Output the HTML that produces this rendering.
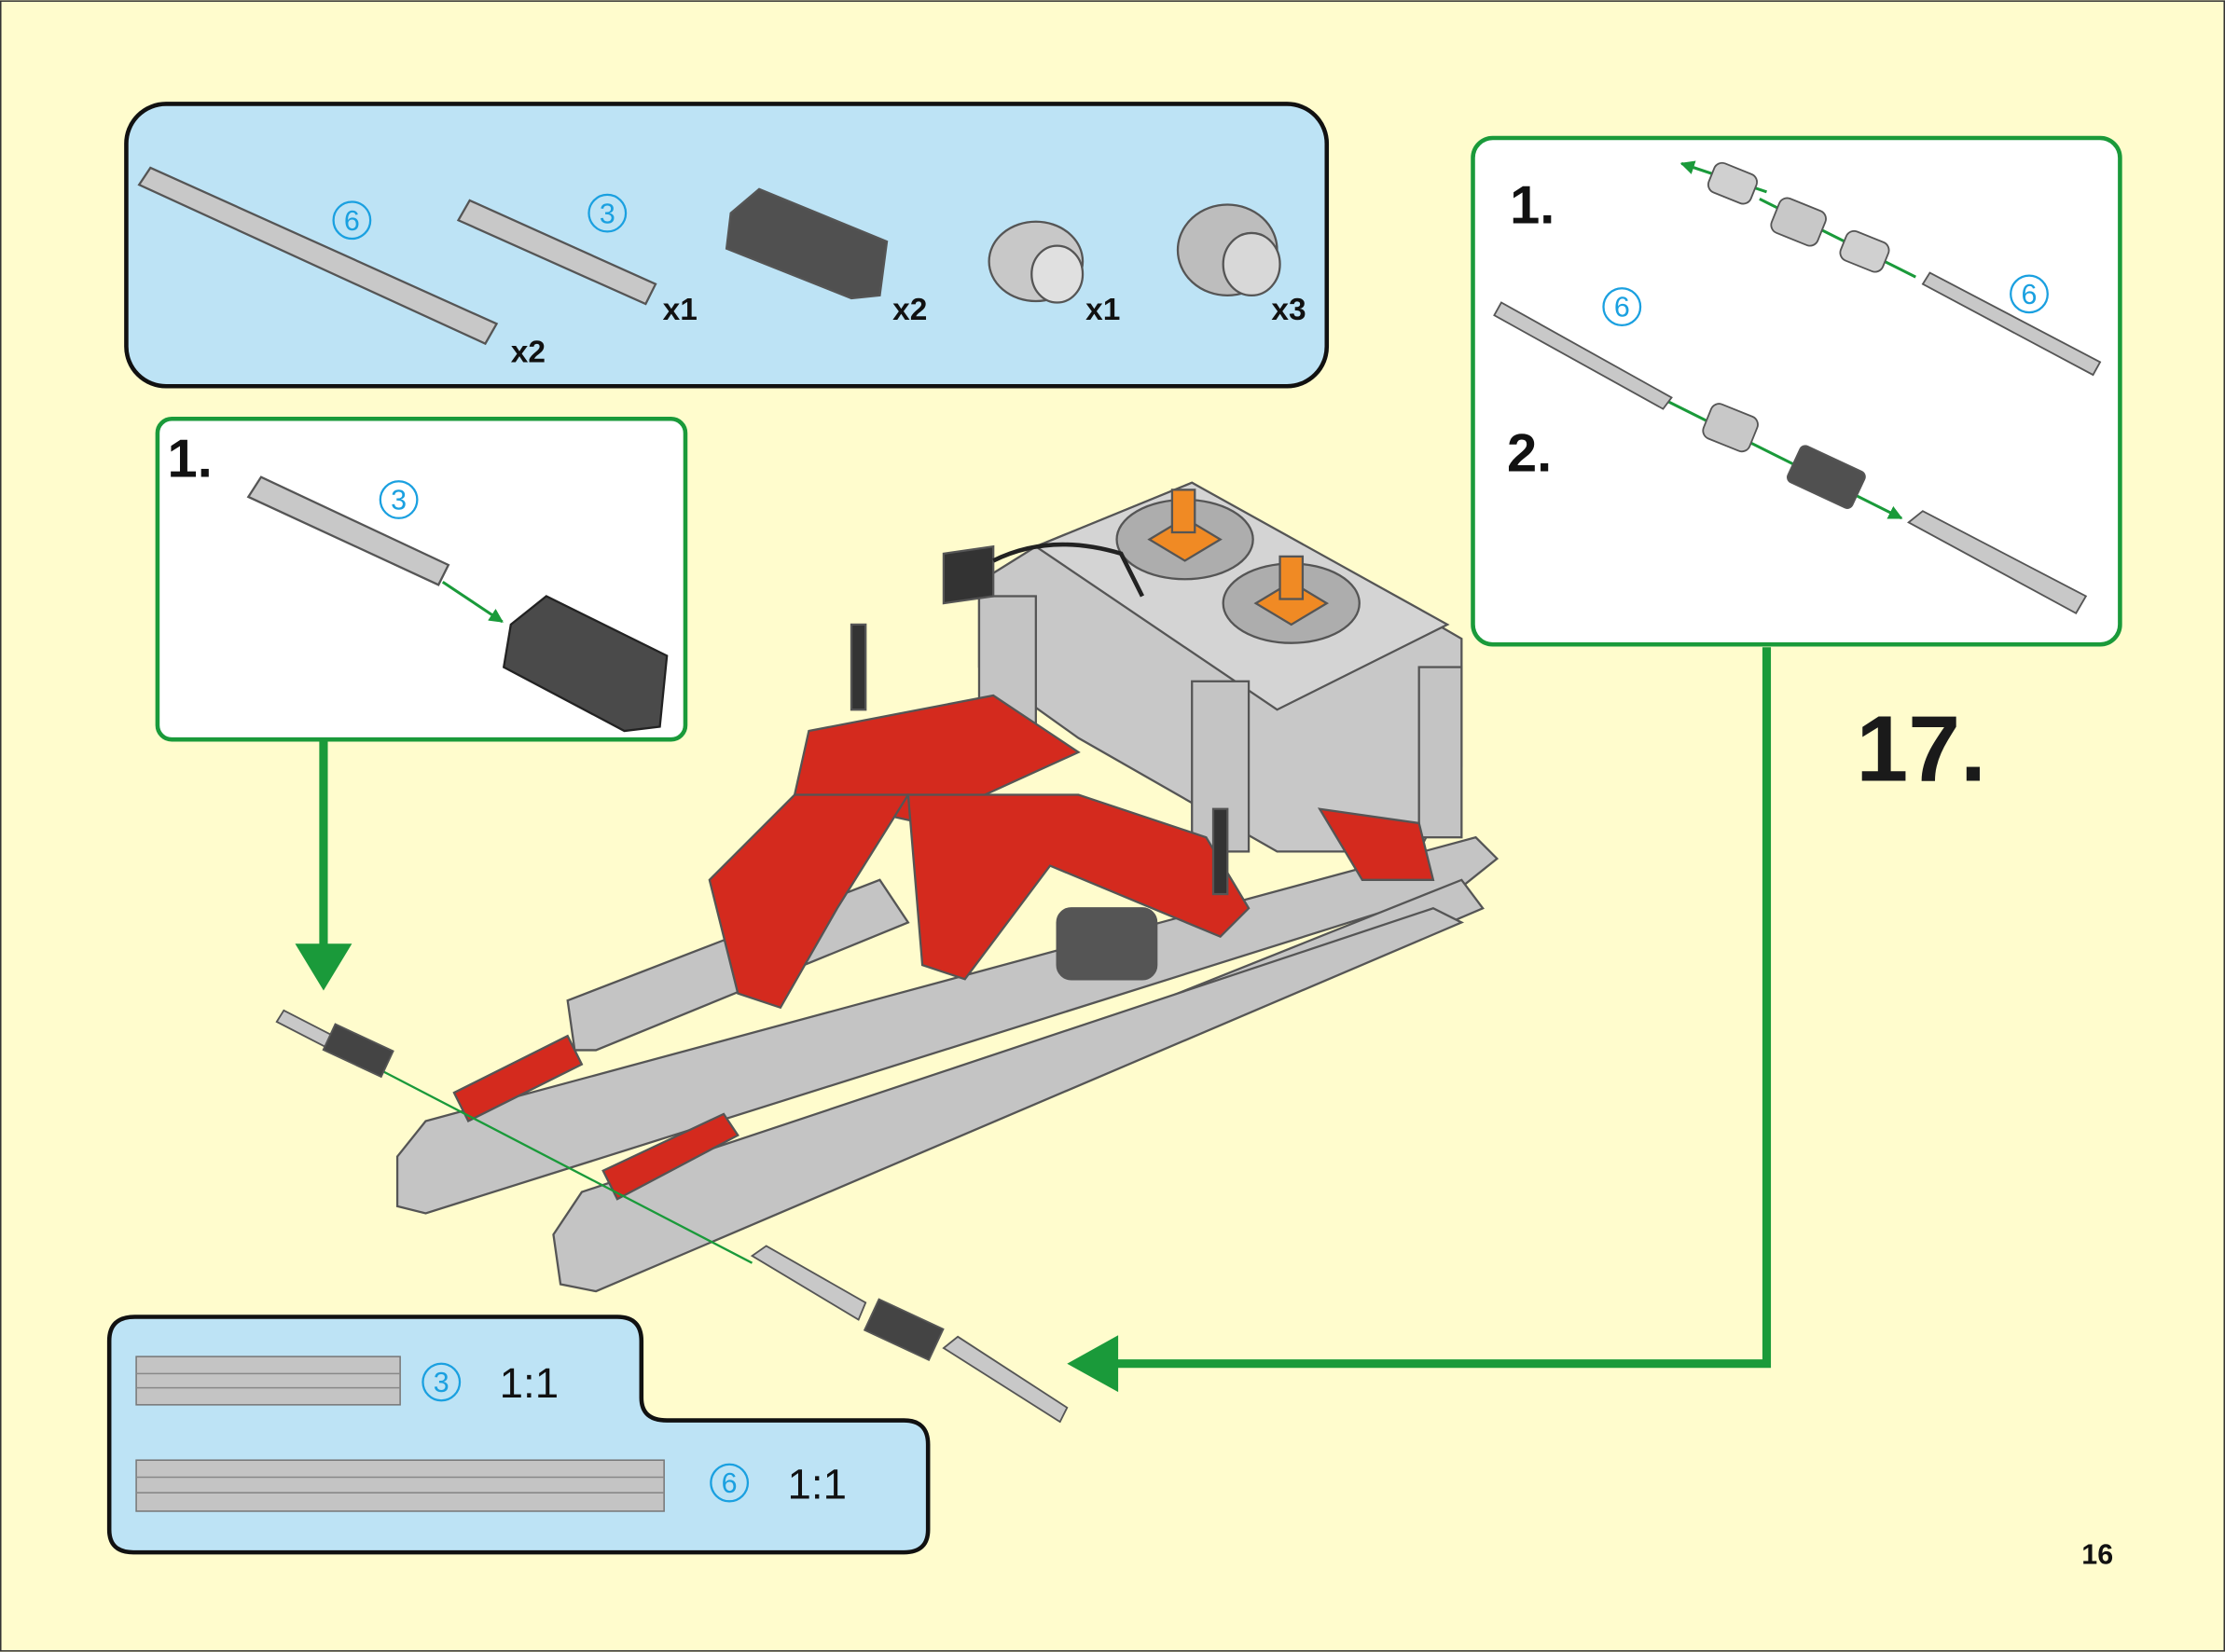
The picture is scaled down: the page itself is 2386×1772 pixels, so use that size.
<!DOCTYPE html>
<html><head><style>html,body{margin:0;padding:0;background:#FFFCCD}svg{display:block}</style></head>
<body>
<svg xmlns="http://www.w3.org/2000/svg" width="2386" height="1772" viewBox="0 0 1568 1164" font-family="Liberation Sans, sans-serif">
<defs>
<marker id="ag" viewBox="0 0 10 10" refX="9" refY="5" markerWidth="5" markerHeight="5" orient="auto"><path d="M0,0L10,5L0,10z" fill="#1A9A3A"/></marker>
</defs>
<rect x="0.5" y="0.5" width="1567" height="1163" fill="#FFFCCD" stroke="#333" stroke-width="1"/>

<!-- parts box -->
<rect x="89" y="73" width="846" height="199" rx="28" fill="#BDE3F5" stroke="#111" stroke-width="3"/>
<g stroke="#555" stroke-width="1.5">
<polygon points="98,130 106,118 350,228 342,242" fill="#C8C8C8"/>
<polygon points="323,155 331,141 462,200 455,214" fill="#C8C8C8"/>
<polygon points="515,150 535,133 625,170 620,208 600,210 512,175" fill="#505050"/>
<ellipse cx="730" cy="184" rx="33" ry="28" fill="#C8C8C8"/>
<ellipse cx="745" cy="193" rx="18" ry="20" fill="#E0E0E0"/>
<ellipse cx="865" cy="176" rx="35" ry="32" fill="#BDBDBD"/>
<ellipse cx="882" cy="186" rx="20" ry="22" fill="#D8D8D8"/>
</g>
<g fill="none" stroke="#1AA0E0" stroke-width="1.5"><circle cx="248" cy="155" r="13"/><circle cx="428" cy="150" r="13"/></g>
<g fill="#1AA0E0" font-size="20" text-anchor="middle"><text x="248" y="162">6</text><text x="428" y="157">3</text></g>
<g font-weight="bold" font-size="22" fill="#111"><text x="360" y="255">x2</text><text x="467" y="225">x1</text><text x="629" y="225">x2</text><text x="765" y="225">x1</text><text x="896" y="225">x3</text></g>

<!-- step 1 left -->
<rect x="111" y="295" width="372" height="226" rx="10" fill="#fff" stroke="#1A9A3A" stroke-width="3"/>
<text x="118" y="336" font-size="38" font-weight="bold" fill="#111">1.</text>
<polygon points="175,350 184,336 316,398 309,412" fill="#C8C8C8" stroke="#555" stroke-width="1.5"/>
<circle cx="281" cy="352" r="13" fill="none" stroke="#1AA0E0" stroke-width="1.5"/><text x="281" y="359" font-size="20" fill="#1AA0E0" text-anchor="middle">3</text>
<line x1="312" y1="410" x2="354" y2="438" stroke="#1A9A3A" stroke-width="2" marker-end="url(#ag)"/>
<polygon points="360,440 385,420 470,462 465,512 440,515 355,470" fill="#4A4A4A" stroke="#222" stroke-width="1.5"/>

<!-- right box -->
<rect x="1038" y="97" width="456" height="357" rx="14" fill="#fff" stroke="#1A9A3A" stroke-width="3"/>
<text x="1064" y="157" font-size="38" font-weight="bold" fill="#111">1.</text>
<text x="1062" y="332" font-size="38" font-weight="bold" fill="#111">2.</text>
<g stroke="#1A9A3A" stroke-width="2"><line x1="1245" y1="135" x2="1185" y2="115" marker-end="url(#ag)"/><line x1="1240" y1="140" x2="1350" y2="195"/><line x1="1170" y1="280" x2="1340" y2="365" marker-end="url(#ag)"/></g>
<g stroke="#555" stroke-width="1.2">
<rect x="1205" y="118" width="32" height="22" rx="6" fill="#D0D0D0" transform="rotate(22 1221 129)"/>
<rect x="1250" y="143" width="35" height="26" rx="6" fill="#C8C8C8" transform="rotate(22 1267 156)"/>
<rect x="1298" y="166" width="32" height="22" rx="6" fill="#D0D0D0" transform="rotate(22 1314 177)"/>
<polygon points="1355,200 1360,192 1480,255 1475,264" fill="#C8C8C8"/>
<polygon points="1053,222 1058,213 1178,280 1172,288" fill="#C8C8C8"/>
<rect x="1202" y="288" width="35" height="26" rx="6" fill="#C8C8C8" transform="rotate(22 1219 301)"/>
<rect x="1262" y="322" width="50" height="28" rx="4" fill="#505050" transform="rotate(25 1287 336)"/>
<polygon points="1345,368 1355,360 1470,420 1463,432" fill="#C8C8C8"/>
</g>
<g fill="none" stroke="#1AA0E0" stroke-width="1.5"><circle cx="1430" cy="207" r="13"/><circle cx="1143" cy="216" r="13"/></g>
<g fill="#1AA0E0" font-size="20" text-anchor="middle"><text x="1430" y="214">6</text><text x="1143" y="223">6</text></g>

<text x="1308" y="550" font-size="66" font-weight="bold" fill="#1a1a1a">17.</text>

<!-- green arrows -->
<path d="M228,522 V670" stroke="#1A9A3A" stroke-width="6" fill="none"/>
<polygon points="208,665 248,665 228,698" fill="#1A9A3A"/>
<path d="M1245,456 V961 H785" stroke="#1A9A3A" stroke-width="6" fill="none"/>
<polygon points="788,941 788,981 752,961" fill="#1A9A3A"/>

<!-- model (simplified) -->
<g stroke="#555" stroke-width="1.5">
<!-- power box structure -->
<polygon points="690,410 730,385 840,340 1030,450 1030,540 1000,600 900,600 760,520 690,470" fill="#C8C8C8"/>
<polygon points="730,385 840,340 1020,440 900,500" fill="#D4D4D4"/>
<rect x="690" y="420" width="40" height="90" fill="#C4C4C4"/>
<rect x="840" y="480" width="40" height="120" fill="#C4C4C4"/>
<rect x="1000" y="470" width="30" height="120" fill="#C4C4C4"/>
<ellipse cx="835" cy="380" rx="48" ry="28" fill="#ADADAD"/>
<ellipse cx="910" cy="425" rx="48" ry="28" fill="#ADADAD"/>
<polygon points="810,380 835,365 860,380 835,395" fill="#F08A24"/>
<polygon points="885,425 910,410 935,425 910,440" fill="#F08A24"/>
<rect x="826" y="345" width="16" height="30" fill="#F08A24"/>
<rect x="902" y="392" width="16" height="30" fill="#F08A24"/>
<!-- chassis -->
<polygon points="400,705 620,620 640,650 420,740 405,740" fill="#C4C4C4"/>
<polygon points="280,815 300,790 1040,590 1055,605 1030,625 300,855 280,850" fill="#C4C4C4"/>
<polygon points="580,800 1030,620 1045,640 600,830" fill="#C4C4C4"/>
<polygon points="390,870 410,840 1010,640 1030,650 420,910 395,905" fill="#C4C4C4"/>
<polygon points="570,515 700,490 760,530 650,580 560,560" fill="#D42A1E"/>
<polygon points="500,620 560,560 640,560 590,640 550,710 520,700" fill="#D42A1E"/>
<polygon points="640,560 760,560 850,590 880,640 860,660 740,610 680,690 650,680" fill="#D42A1E"/>
<polygon points="930,570 1000,580 1010,620 960,620" fill="#D42A1E"/>
<polygon points="320,770 400,730 410,750 330,790" fill="#D42A1E"/>
<polygon points="425,825 510,785 520,800 435,845" fill="#D42A1E"/>
<rect x="745" y="640" width="70" height="50" rx="10" fill="#555"/>
<rect x="600" y="440" width="10" height="60" fill="#333"/>
<rect x="855" y="570" width="10" height="60" fill="#333"/>
<polygon points="665,390 700,385 700,420 665,425" fill="#333"/>
</g>
<path d="M700,395 Q740,375 790,390 L805,420" stroke="#222" stroke-width="3" fill="none"/>
<line x1="270" y1="755" x2="530" y2="890" stroke="#1A9A3A" stroke-width="1.5"/>
<g stroke="#555" stroke-width="1.2">
<polygon points="195,720 200,712 235,730 230,738" fill="#C8C8C8"/>
<rect x="230" y="730" width="45" height="20" fill="#444" transform="rotate(25 252 740)"/>
<polygon points="530,885 540,878 610,918 605,930" fill="#C8C8C8"/>
<rect x="612" y="925" width="50" height="24" fill="#444" transform="rotate(25 637 937)"/>
<polygon points="665,950 675,942 752,992 747,1002" fill="#C8C8C8"/>
</g>

<!-- bottom box -->
<path d="M95,928 H435 Q452,928 452,945 V985 Q452,1001 470,1001 H637 Q654,1001 654,1018 V1078 Q654,1094 637,1094 H94 Q77,1094 77,1078 V945 Q77,928 95,928 Z" fill="#BDE3F5" stroke="#111" stroke-width="3"/>
<rect x="96" y="956" width="186" height="34" fill="#C4C4C4" stroke="#777"/>
<line x1="96" y1="968" x2="282" y2="968" stroke="#888"/><line x1="96" y1="978" x2="282" y2="978" stroke="#888"/>
<rect x="96" y="1029" width="372" height="36" fill="#C4C4C4" stroke="#777"/>
<line x1="96" y1="1041" x2="468" y2="1041" stroke="#888"/><line x1="96" y1="1052" x2="468" y2="1052" stroke="#888"/>
<g fill="none" stroke="#1AA0E0" stroke-width="1.5"><circle cx="311" cy="974" r="13"/><circle cx="514" cy="1045" r="13"/></g>
<g fill="#1AA0E0" font-size="20" text-anchor="middle"><text x="311" y="981">3</text><text x="514" y="1052">6</text></g>
<g font-size="30" fill="#111"><text x="352" y="985">1:1</text><text x="555" y="1056">1:1</text></g>

<text x="1467" y="1102" font-size="20" font-weight="bold" fill="#111">16</text>
</svg>
</body></html>
